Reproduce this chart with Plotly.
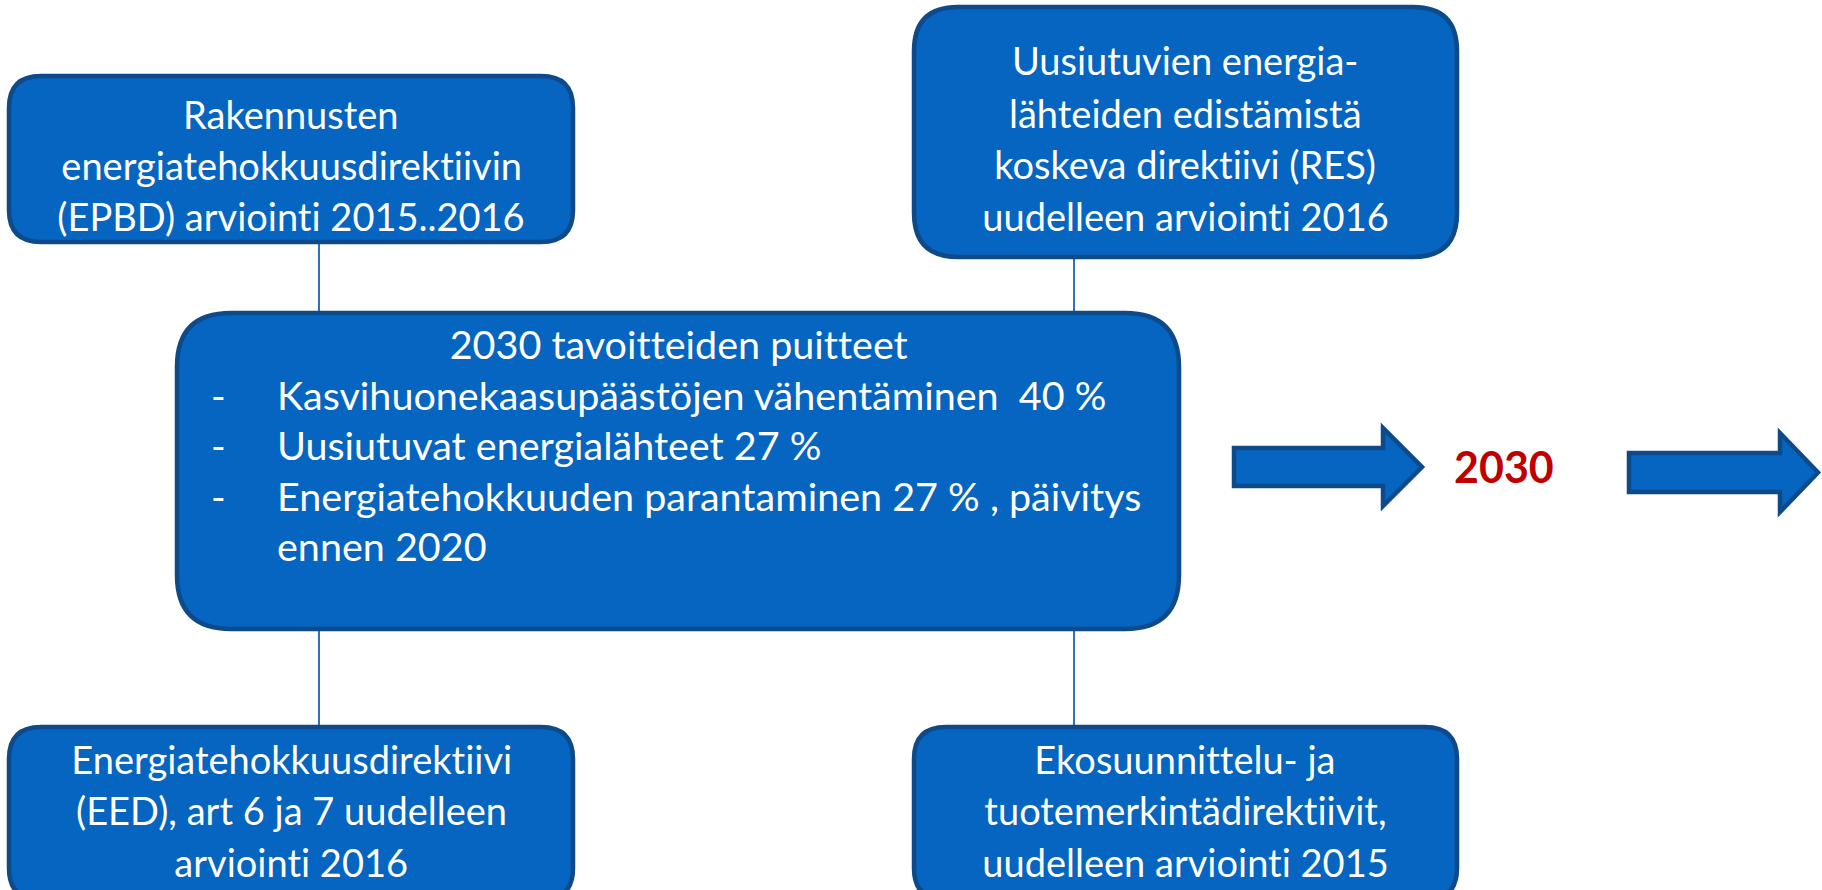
import plotly.graph_objects as go

# ---- text content ----
box_top_left = ["Rakennusten", "energiatehokkuusdirektiivin", "(EPBD) arviointi 2015..2016"]
box_top_right = ["Uusiutuvien energia-", "lähteiden edistämistä", "koskeva direktiivi (RES)", "uudelleen arviointi 2016"]
box_bottom_left = ["Energiatehokkuusdirektiivi", "(EED), art 6 ja 7 uudelleen", "arviointi 2016"]
box_bottom_right = ["Ekosuunnittelu- ja", "tuotemerkintädirektiivit,", "uudelleen arviointi 2015"]
center_title = "2030 tavoitteiden puitteet"
center_bullets = ["Kasvihuonekaasupäästöjen vähentäminen  40 %",
                  "Uusiutuvat energialähteet 27 %",
                  "Energiatehokkuuden parantaminen 27 % , päivitys",
                  "ennen 2020"]
bullet_marks = ["-", "-", "-", ""]
year_label = "2030"

# ---- layout constants (pixel-like data units) ----
W, H = 1822, 890
FILL = "#0565C0"
EDGE = "#0E4A89"
LINE = "#2E72BE"
FONT = "Lato"

fig = go.Figure()
fig.add_trace(go.Scatter(x=[0, W], y=[0, H], mode="markers", marker=dict(opacity=0),
                         hoverinfo="skip", showlegend=False))

def rrect(x0, y0, x1, y1, r):
    return (f"M {x0+r},{y0} L {x1-r},{y0} Q {x1},{y0} {x1},{y0+r} "
            f"L {x1},{y1-r} Q {x1},{y1} {x1-r},{y1} L {x0+r},{y1} "
            f"Q {x0},{y1} {x0},{y1-r} L {x0},{y0+r} Q {x0},{y0} {x0+r},{y0} Z")

shapes = []
for cx, ya, yb in [(319, 242, 313), (319, 629, 727), (1074, 257, 313), (1074, 629, 727)]:
    shapes.append(dict(type="line", x0=cx, x1=cx, y0=ya, y1=yb, xref="x", yref="y",
                       line=dict(color=LINE, width=2), layer="above"))

boxes = [(9, 76, 573, 242, 32), (914, 7, 1457, 257, 44), (177, 313, 1179, 629, 54),
         (9, 727, 573, 900, 32), (914, 727, 1457, 900, 32)]
for x0, y0, x1, y1, r in boxes:
    shapes.append(dict(type="path", path=rrect(x0, y0, x1, y1, r), xref="x", yref="y",
                       fillcolor=FILL, line=dict(color=EDGE, width=4.5), layer="above"))

def arrow(x0, xb, xt, yc, sh, hh):
    return (f"M {x0},{yc-sh} L {xb},{yc-sh} L {xb},{yc-hh} L {xt},{yc} "
            f"L {xb},{yc+hh} L {xb},{yc+sh} L {x0},{yc+sh} Z")

shapes.append(dict(type="path", path=arrow(1234, 1383, 1422, 467, 19, 39), xref="x", yref="y",
                   fillcolor=FILL, line=dict(color=EDGE, width=4.5), layer="above"))
shapes.append(dict(type="path", path=arrow(1629, 1780, 1818, 472.5, 19.5, 39.5), xref="x", yref="y",
                   fillcolor=FILL, line=dict(color=EDGE, width=4.5), layer="above"))

ann = []
def add_lines(lines, cx, ys, size=38):
    for t, y in zip(lines, ys):
        ann.append(dict(x=cx, y=y, text=t, showarrow=False, xref="x", yref="y",
                        xanchor="center", yanchor="middle",
                        font=dict(family=FONT, size=size, color="white")))

add_lines(box_top_left, 291, [114, 165, 216])
add_lines(box_top_right, 1185, [60, 113, 164, 216])
add_lines(box_bottom_left, 291, [759, 810, 862])
add_lines(box_bottom_right, 1185, [759, 810, 862])

CS = 39.5
ann.append(dict(x=678, y=343, text=center_title, showarrow=False, xref="x", yref="y",
                xanchor="center", yanchor="middle", font=dict(family=FONT, size=CS, color="white")))
for m, t, y in zip(bullet_marks, center_bullets, [394, 444, 495, 545]):
    if m:
        ann.append(dict(x=218, y=y, text=m, showarrow=False, xref="x", yref="y",
                        xanchor="center", yanchor="middle", font=dict(family=FONT, size=CS, color="white")))
    ann.append(dict(x=275, y=y, text=t, showarrow=False, xref="x", yref="y",
                    xanchor="left", yanchor="middle", font=dict(family=FONT, size=CS, color="white")))

ann.append(dict(x=1504, y=466, text=f"<b>{year_label}</b>", showarrow=False, xref="x", yref="y",
                xanchor="center", yanchor="middle", font=dict(family=FONT, size=43, color="#C00000")))

fig.update_layout(width=W, height=H, margin=dict(l=0, r=0, t=0, b=0),
                  plot_bgcolor="white", paper_bgcolor="white",
                  xaxis=dict(range=[0, W], visible=False, fixedrange=True),
                  yaxis=dict(range=[H, 0], visible=False, fixedrange=True),
                  shapes=shapes, annotations=ann, showlegend=False)

post = ("document.body.style.margin='0';"
        "var s=document.createElement('style');"
        "s.textContent='text{font-variant-ligatures:none !important;font-feature-settings:\"liga\" 0,\"clig\" 0 !important;}';"
        "document.head.appendChild(s);")
fig.write_html("out.html", config={"displayModeBar": False}, post_script=post)
